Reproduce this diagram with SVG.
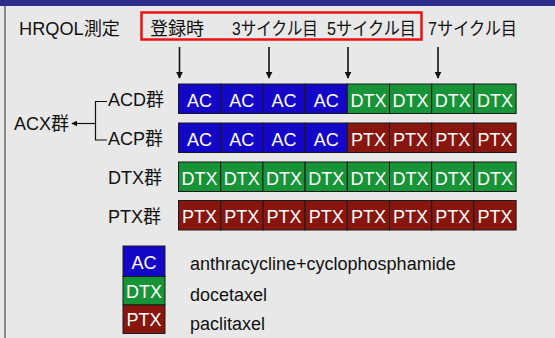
<svg xmlns="http://www.w3.org/2000/svg" width="555" height="338" viewBox="0 0 555 338">
<defs>
<style>
text{font-family:"Liberation Sans","Noto Sans CJK JP",sans-serif;fill:#111}
.lbl{font-size:18px}
.cell{stroke:#1a1a1a;stroke-width:1}
.ac{fill:#1406c6}
.dtx{fill:#179437}
.ptx{fill:#88150e}
.ct{font-size:18px;fill:#fff;text-anchor:middle}
.leg{font-size:18px}
.conn{stroke:#111;stroke-width:1.6;fill:none}
</style>
<marker id="ah" viewBox="0 0 10 10" refX="9" refY="5" markerWidth="6" markerHeight="6" markerUnits="userSpaceOnUse" orient="auto"><path d="M0,0 L10,5 L0,10 z" fill="#111"/></marker>
<marker id="ah2" viewBox="0 0 10 10" refX="9" refY="5" markerWidth="7" markerHeight="7" markerUnits="userSpaceOnUse" orient="auto"><path d="M0,0 L10,5 L0,10 z" fill="#111"/></marker>
</defs>
<rect x="0" y="0" width="555" height="338" fill="#e8e8e8"/>
<rect x="0" y="0" width="555" height="6" fill="#2c2c8c"/>
<rect x="4" y="6" width="2" height="332" fill="#8a8a8a"/>

<g id="header">
<text class="lbl" x="19" y="35" textLength="101" lengthAdjust="spacingAndGlyphs">HRQOL測定</text>
<rect x="141.5" y="12.5" width="280" height="27" fill="none" stroke="#ee1111" stroke-width="2.5"/>
<text class="lbl" x="150" y="35" textLength="54" lengthAdjust="spacingAndGlyphs">登録時</text>
<text class="lbl" x="232" y="35" textLength="86" lengthAdjust="spacingAndGlyphs">3サイクル目</text>
<text class="lbl" x="327" y="35" textLength="89" lengthAdjust="spacingAndGlyphs">5サイクル目</text>
<text class="lbl" x="428" y="35" textLength="89" lengthAdjust="spacingAndGlyphs">7サイクル目</text>
</g>

<g id="connectors">
<line class="conn" x1="179.5" y1="47" x2="179.5" y2="78" marker-end="url(#ah2)"/>
<line class="conn" x1="269" y1="47" x2="269" y2="78" marker-end="url(#ah2)"/>
<line class="conn" x1="348" y1="47" x2="348" y2="78" marker-end="url(#ah2)"/>
<line class="conn" x1="438" y1="47" x2="438" y2="78" marker-end="url(#ah2)"/>
<path class="conn" style="stroke-width:1.2" d="M107,101.5 H95.5 V140 H107"/>
<line class="conn" style="stroke-width:1.2" x1="95.5" y1="123.5" x2="72" y2="123.5" marker-end="url(#ah)"/>
</g>

<g id="acx"><text class="lbl" x="14" y="130">ACX群</text></g>

<g id="row-acd">
<text class="lbl" x="108" y="106">ACD群</text>
<rect class="cell ac" x="178.5" y="84" width="42.2" height="29.5"/>
<rect class="cell ac" x="220.7" y="84" width="42.2" height="29.5"/>
<rect class="cell ac" x="262.9" y="84" width="42.2" height="29.5"/>
<rect class="cell ac" x="305.1" y="84" width="42.2" height="29.5"/>
<rect class="cell dtx" x="347.3" y="84" width="42.2" height="29.5"/>
<rect class="cell dtx" x="389.5" y="84" width="42.2" height="29.5"/>
<rect class="cell dtx" x="431.7" y="84" width="42.2" height="29.5"/>
<rect class="cell dtx" x="473.9" y="84" width="42.2" height="29.5"/>
<text class="ct" x="199.6" y="106.5">AC</text>
<text class="ct" x="241.8" y="106.5">AC</text>
<text class="ct" x="284" y="106.5">AC</text>
<text class="ct" x="326.2" y="106.5">AC</text>
<text class="ct" x="368.4" y="106.5">DTX</text>
<text class="ct" x="410.6" y="106.5">DTX</text>
<text class="ct" x="452.8" y="106.5">DTX</text>
<text class="ct" x="495" y="106.5">DTX</text>
</g>

<g id="row-acp">
<text class="lbl" x="108" y="145">ACP群</text>
<rect class="cell ac" x="178.5" y="123" width="42.2" height="29.5"/>
<rect class="cell ac" x="220.7" y="123" width="42.2" height="29.5"/>
<rect class="cell ac" x="262.9" y="123" width="42.2" height="29.5"/>
<rect class="cell ac" x="305.1" y="123" width="42.2" height="29.5"/>
<rect class="cell ptx" x="347.3" y="123" width="42.2" height="29.5"/>
<rect class="cell ptx" x="389.5" y="123" width="42.2" height="29.5"/>
<rect class="cell ptx" x="431.7" y="123" width="42.2" height="29.5"/>
<rect class="cell ptx" x="473.9" y="123" width="42.2" height="29.5"/>
<text class="ct" x="199.6" y="145.5">AC</text>
<text class="ct" x="241.8" y="145.5">AC</text>
<text class="ct" x="284" y="145.5">AC</text>
<text class="ct" x="326.2" y="145.5">AC</text>
<text class="ct" x="368.4" y="145.5">PTX</text>
<text class="ct" x="410.6" y="145.5">PTX</text>
<text class="ct" x="452.8" y="145.5">PTX</text>
<text class="ct" x="495" y="145.5">PTX</text>
</g>

<g id="row-dtx">
<text class="lbl" x="108" y="184">DTX群</text>
<rect class="cell dtx" x="178.5" y="162" width="42.2" height="29.5"/>
<rect class="cell dtx" x="220.7" y="162" width="42.2" height="29.5"/>
<rect class="cell dtx" x="262.9" y="162" width="42.2" height="29.5"/>
<rect class="cell dtx" x="305.1" y="162" width="42.2" height="29.5"/>
<rect class="cell dtx" x="347.3" y="162" width="42.2" height="29.5"/>
<rect class="cell dtx" x="389.5" y="162" width="42.2" height="29.5"/>
<rect class="cell dtx" x="431.7" y="162" width="42.2" height="29.5"/>
<rect class="cell dtx" x="473.9" y="162" width="42.2" height="29.5"/>
<text class="ct" x="199.6" y="184.5">DTX</text>
<text class="ct" x="241.8" y="184.5">DTX</text>
<text class="ct" x="284" y="184.5">DTX</text>
<text class="ct" x="326.2" y="184.5">DTX</text>
<text class="ct" x="368.4" y="184.5">DTX</text>
<text class="ct" x="410.6" y="184.5">DTX</text>
<text class="ct" x="452.8" y="184.5">DTX</text>
<text class="ct" x="495" y="184.5">DTX</text>
</g>

<g id="row-ptx">
<text class="lbl" x="108" y="222.5">PTX群</text>
<rect class="cell ptx" x="178.5" y="200.5" width="42.2" height="29.5"/>
<rect class="cell ptx" x="220.7" y="200.5" width="42.2" height="29.5"/>
<rect class="cell ptx" x="262.9" y="200.5" width="42.2" height="29.5"/>
<rect class="cell ptx" x="305.1" y="200.5" width="42.2" height="29.5"/>
<rect class="cell ptx" x="347.3" y="200.5" width="42.2" height="29.5"/>
<rect class="cell ptx" x="389.5" y="200.5" width="42.2" height="29.5"/>
<rect class="cell ptx" x="431.7" y="200.5" width="42.2" height="29.5"/>
<rect class="cell ptx" x="473.9" y="200.5" width="42.2" height="29.5"/>
<text class="ct" x="199.6" y="223">PTX</text>
<text class="ct" x="241.8" y="223">PTX</text>
<text class="ct" x="284" y="223">PTX</text>
<text class="ct" x="326.2" y="223">PTX</text>
<text class="ct" x="368.4" y="223">PTX</text>
<text class="ct" x="410.6" y="223">PTX</text>
<text class="ct" x="452.8" y="223">PTX</text>
<text class="ct" x="495" y="223">PTX</text>
</g>

<g id="legend">
<rect class="cell ac" x="123" y="246" width="42" height="30.5"/>
<rect class="cell dtx" x="123" y="276.5" width="42" height="28.5"/>
<rect class="cell ptx" x="123" y="305" width="42" height="28.5"/>
<text class="ct" x="144" y="268.5">AC</text>
<text class="ct" x="144" y="298">DTX</text>
<text class="ct" x="144" y="326">PTX</text>
<text class="leg" x="190" y="270">anthracycline+cyclophosphamide</text>
<text class="leg" x="190" y="301">docetaxel</text>
<text class="leg" x="190" y="330">paclitaxel</text>
</g>
</svg>
